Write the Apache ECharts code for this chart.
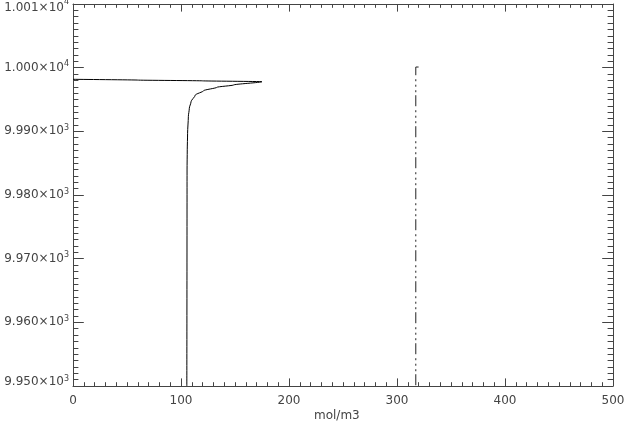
<!DOCTYPE html>
<html>
<head>
<meta charset="utf-8">
<script src="https://cdn.jsdelivr.net/npm/echarts@6/dist/echarts.min.js"></script>
<style>html,body{margin:0;padding:0;background:#fff;}#c{width:624px;height:427px;}</style>
</head>
<body>
<div id="c"></div>
<script>
// Solid profile (x = mol/m3, y = vertical coordinate)
var solidX = [0, 60, 120, 175.0, 148.7, 133.3, 121.0, 113.2, 109.3, 107.7, 106.8, 106.1, 105.8, 105.6, 105.4];
var solidY = [9998.17, 9998.05, 9997.93, 9997.80, 9997.28, 9996.92, 9996.39, 9995.69, 9994.65, 9993.62, 9992.30, 9989.69, 9987.1, 9983.93, 9950];
// Dash-dot profile
var dashX = [320, 317.4, 317.4];
var dashY = [10000.1, 10000.1, 9950];
// Axis ranges / ticks
var xMin = 0, xMax = 500, xStep = 100;
var yMin = 9950, yMax = 10010, yStep = 10;
var xTitle = 'mol/m3';

function zip(a, b) { return a.map(function (v, i) { return [v, b[i]]; }); }

var FONT = 'DejaVu Sans';
var FS = 12;
var AX = '#444';
var TXT = '#444';
function yFmt(v) {
  var p = v >= 10000 ? 4 : 3;
  var m = (v / Math.pow(10, p)).toFixed(3) + '×10';
  var k = v === yMax ? 't' : (v === yMin ? 'b' : '');
  return '{n' + k + '|' + m + '}{s' + k + '|' + p + '}';
}
function xAxisCfg(pos, labels) {
  return {
    type: 'value', position: pos, min: xMin, max: xMax, interval: xStep,
    axisLine: { show: true, onZero: false, lineStyle: { color: AX, width: 1 } },
    axisTick: { show: true, inside: true, length: 7.6, lineStyle: { color: AX } },
    minorTick: { show: true, splitNumber: 10, length: 3.8, lineStyle: { color: AX } },
    axisLabel: { show: labels, margin: 9, color: TXT, fontFamily: FONT, fontSize: FS },
    splitLine: { show: false }, minorSplitLine: { show: false }
  };
}
function rs(size, pad) { return { fontSize: size, fontFamily: FONT, color: TXT, padding: pad }; }
function yAxisCfg(pos, labels) {
  return {
    type: 'value', position: pos, min: yMin, max: yMax, interval: yStep,
    axisLine: { show: true, onZero: false, lineStyle: { color: AX, width: 1 } },
    axisTick: { show: true, inside: true, length: 10.8, lineStyle: { color: AX } },
    minorTick: { show: true, splitNumber: 10, length: 5.4, lineStyle: { color: AX } },
    axisLabel: {
      show: labels, margin: 4, color: TXT, fontFamily: FONT, fontSize: FS,
      formatter: yFmt,
      rich: {
        n: rs(FS, [0, 0, 0, 0]), s: rs(8, [0, 0, 7, 0]),
        nt: rs(FS, [8, 0, 0, 0]), st: rs(8, [0, 0, 5, 0]),
        nb: rs(FS, [0, 0, 8, 0]), sb: rs(8, [0, 0, 15, 0])
      }
    },
    splitLine: { show: false }, minorSplitLine: { show: false }
  };
}

var chart = echarts.init(document.getElementById('c'), null, { renderer: 'canvas' });
chart.setOption({
  animation: false,
  backgroundColor: '#fff',
  grid: { left: 73, right: 11, top: 4, bottom: 41, containLabel: false, outerBoundsMode: 'none' },
  xAxis: [xAxisCfg('bottom', true), xAxisCfg('top', false)],
  yAxis: [yAxisCfg('left', true), yAxisCfg('right', false)],
  graphic: [{
    type: 'text', left: 314, top: 410,
    style: { text: xTitle, fill: TXT, font: FS + 'px "DejaVu Sans"' }
  }],
  series: [
    {
      type: 'line', data: zip(solidX, solidY), showSymbol: false, symbol: 'none',
      smooth: 0.25, smoothMonotone: 'y',
      lineStyle: { color: '#000', width: 1 }, clip: true
    },
    {
      type: 'line', data: zip(dashX, dashY), showSymbol: false, symbol: 'none',
      lineStyle: { color: '#222', width: 1, type: [11, 4, 2, 3.5, 2, 3.5, 2, 3] }, clip: true
    }
  ]
});
</script>
</body>
</html>
